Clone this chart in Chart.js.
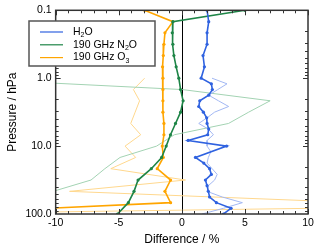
<!DOCTYPE html>
<html>
<head>
<meta charset="utf-8">
<script src="https://cdn.jsdelivr.net/npm/chart.js@4"></script>
<style>
  html, body { margin: 0; padding: 0; background: #fff; }
</style>
</head>
<body>
<canvas id="chart" width="320" height="249"></canvas>
<script>
// Pressure levels (hPa)
const levelsCoarse = [0.1, 0.147, 0.215, 0.316, 0.464, 0.681, 1, 1.47, 2.15, 3.16, 4.64, 6.81, 10, 14.7, 21.5, 31.6, 46.4, 68.1, 100];
const levelsH2O = [0.1, 0.147, 0.215, 0.316, 0.464, 0.681,
  1, 1.21, 1.47, 1.78, 2.15, 2.61, 3.16, 3.83, 4.64, 5.62, 6.81, 8.25,
  10, 12.1, 14.7, 17.8, 21.5, 26.1, 31.6, 38.3, 46.4, 56.2, 68.1, 82.5, 100];
const levelsH2OThin = [1, 1.21, 1.47, 1.78, 2.15, 2.61, 3.16, 3.83, 4.64, 5.62, 6.81, 8.25,
  10, 12.1, 14.7, 17.8, 21.5, 26.1, 31.6, 38.3, 46.4, 56.2, 68.1, 82.5, 100];
const levelsThin = [1, 1.47, 2.15, 3.16, 4.64, 6.81, 10, 14.7, 21.5, 31.6, 46.4, 68.1, 82.5, 100];
const levelsN2OThin = [1, 1.47, 2.15, 3.16, 4.64, 6.81, 10, 14.7, 21.5, 31.6, 46.4];
const levelsO3 = [0.1, 0.147, 0.215, 0.316, 0.464, 0.681, 1, 1.47, 2.15, 3.16, 4.64, 6.81, 10, 14.7, 21.5, 31.6, 46.4, 68.1, 82.5, 100];

// Differences (%)
const h2oDiff = [2.0, 2.13, 2.0, 2.0, 1.68, 1.79,
  1.53, 2.34, 2.42, 2.13, 1.42, 1.34, 1.71, 1.97, 2.0, 2.13, 2.05, 0.5,
  3.55, null, 1.08, 1.74, 2.2, 2.34, 1.87, 2.0, 2.1, 2.2, 2.74, 3.9, 3.3];
const h2oDiffThin = [2.39, 3.58, 2.85, 2.13, 2.9, 3.71, 2.6, 2.0, 1.34, 2.1, 2.5, 2.0,
  2.0, 2.3, 2.1, 2.0, 2.4, 2.8, 2.6, 2.1, 2.0, 3.2, 4.8, 3.3, 1.6];
const n2oDiff = [5.0, -0.71, -0.76, -0.71, -0.63, -0.45, -0.24, -0.1, 0.1, -0.1, -0.5, -0.9,
  -1.24, -1.6, -2.42, -3.47, -3.79, -4.24, -5.1];
const n2oDiffThin = [-18, 0.03, 7.0, 5.3, 3.7, -0.6, -2.0, -4.9, -6.1, -7.2, -10.2];
const o3Diff = [-2.95, -0.71, -1.34, -1.42, -1.47, -1.53, -1.5, -1.5, -1.5, -1.5, -1.42, -1.42,
  -1.55, -1.47, -1.95, -0.89, -1.34, -0.89, -10.5, -14];
const o3DiffThin = [-2.95, -3.84, -3.35, -3.7, -4.05, -3.26, -4.5, -3.66, -5.63, 0.29, -8.9, 14, 10.2, -22];

const yTickValues = [0.1, 1, 10, 100];
const xTickValues = [-10, -5, 0, 5, 10];

const FONT = "'Liberation Sans', Arial, sans-serif";
const colors = {
  h2o: "#2f62e0", h2oThin: "#a3b8f3",
  n2o: "#1e8547", n2oThin: "#a3d3b3",
  o3: "#ffa500", o3Thin: "#ffd88e"
};

function toPoints(levels, values) {
  return levels.map((p, i) => ({ x: values[i], y: p }));
}

function thick(label, levels, values, color) {
  return {
    label, data: toPoints(levels, values),
    borderColor: color, backgroundColor: color,
    borderWidth: 1.6, pointRadius: 1.6, pointBorderWidth: 0,
    spanGaps: true, tension: 0
  };
}

function thin(label, levels, values, color) {
  return {
    label, data: toPoints(levels, values),
    borderColor: color, borderWidth: 1, pointRadius: 0, tension: 0
  };
}

// Frame, inward ticks, zero line and legend box
const decorations = {
  id: "decorations",
  beforeDatasetsDraw(chart) {
    const { ctx, chartArea: a, scales: { x } } = chart;
    const x0 = Math.round(x.getPixelForValue(0)) + 0.5;
    ctx.save();
    ctx.strokeStyle = "#000";
    ctx.lineWidth = 1;
    ctx.beginPath();
    ctx.moveTo(x0, a.top);
    ctx.lineTo(x0, a.bottom);
    ctx.stroke();
    ctx.restore();
  },
  afterDatasetsDraw(chart) {
    const { ctx, chartArea: a, scales: { x, y } } = chart;
    ctx.save();
    ctx.strokeStyle = "#333";
    ctx.lineWidth = 1;
    ctx.beginPath();
    // x ticks, top and bottom
    for (let v = -10; v <= 10; v++) {
      const px = Math.round(x.getPixelForValue(v)) + 0.5;
      const len = v % 5 === 0 ? 5 : 3;
      ctx.moveTo(px, a.bottom); ctx.lineTo(px, a.bottom - len);
      ctx.moveTo(px, a.top); ctx.lineTo(px, a.top + len);
    }
    // log y ticks, left and right
    [0.1, 1, 10].forEach(d => {
      for (let m = 1; m <= 9; m++) {
        const py = Math.round(y.getPixelForValue(d * m)) + 0.5;
        const len = m === 1 ? 5 : 3;
        ctx.moveTo(a.left, py); ctx.lineTo(a.left + len, py);
        ctx.moveTo(a.right, py); ctx.lineTo(a.right - len, py);
      }
    });
    ctx.stroke();
    ctx.lineWidth = 1.5;
    ctx.strokeRect(a.left, a.top, a.right - a.left, a.bottom - a.top);

    // legend
    ctx.fillStyle = "#fff";
    ctx.fillRect(29, 21, 126, 45);
    ctx.strokeStyle = "#555";
    ctx.strokeRect(29, 21, 126, 45);
    const entries = [
      { color: colors.h2o, parts: [["H", 0], ["2", 1], ["O", 0]] },
      { color: colors.n2o, parts: [["190 GHz N", 0], ["2", 1], ["O", 0]] },
      { color: colors.o3, parts: [["190 GHz O", 0], ["3", 1]] }
    ];
    entries.forEach((e, i) => {
      const ly = 32 + i * 12.8;
      ctx.strokeStyle = e.color;
      ctx.lineWidth = 1.2;
      ctx.beginPath();
      ctx.moveTo(40, ly); ctx.lineTo(63, ly);
      ctx.stroke();
      let tx = 73;
      ctx.fillStyle = "#000";
      ctx.textBaseline = "middle";
      e.parts.forEach(([t, sub]) => {
        ctx.font = (sub ? "7px " : "10.5px ") + FONT;
        ctx.fillText(t, tx, ly + (sub ? 3 : 0));
        tx += ctx.measureText(t).width;
      });
    });
    ctx.restore();
  }
};

new Chart(document.getElementById("chart"), {
  type: "line",
  data: {
    datasets: [
      thick("H2O", levelsH2O, h2oDiff, colors.h2o),
      thick("190 GHz N2O", levelsCoarse, n2oDiff, colors.n2o),
      thick("190 GHz O3", levelsO3, o3Diff, colors.o3),
      thin("H2O thin", levelsH2OThin, h2oDiffThin, colors.h2oThin),
      thin("N2O thin", levelsN2OThin, n2oDiffThin, colors.n2oThin),
      thin("O3 thin", levelsThin, o3DiffThin, colors.o3Thin)
    ]
  },
  options: {
    responsive: false,
    animation: false,
    devicePixelRatio: 1,
    layout: { padding: { top: 6, right: 12, left: 5, bottom: 2 } },
    plugins: { legend: { display: false }, tooltip: { enabled: false } },
    scales: {
      x: {
        type: "linear", min: -10, max: 10,
        afterBuildTicks: s => { s.ticks = xTickValues.map(v => ({ value: v })); },
        grid: { display: false, drawTicks: false },
        border: { display: false },
        ticks: { color: "#000", padding: 3, font: { family: FONT, size: 10.5 } },
        title: { display: true, text: "Difference / %", color: "#000", padding: { top: 0, bottom: 0 },
          font: { family: FONT, size: 12 } }
      },
      y: {
        type: "logarithmic", min: 0.1, max: 100, reverse: true,
        afterBuildTicks: s => { s.ticks = yTickValues.map(v => ({ value: v })); },
        grid: { display: false, drawTicks: false },
        border: { display: false },
        ticks: { color: "#000", padding: 4, font: { family: FONT, size: 10.5 },
          callback: v => Number(v).toFixed(1) },
        title: { display: true, text: "Pressure / hPa", color: "#000", padding: { top: 0, bottom: 2 },
          font: { family: FONT, size: 12 } }
      }
    }
  },
  plugins: [decorations]
});
</script>
</body>
</html>
